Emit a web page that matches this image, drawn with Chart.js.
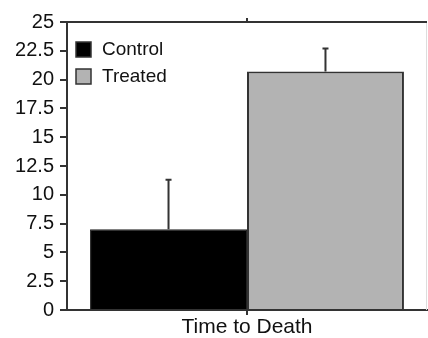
<!DOCTYPE html>
<html>
<head>
<meta charset="utf-8">
<script src="https://cdn.jsdelivr.net/npm/chart.js@4"></script>
<style>
  html, body { margin: 0; padding: 0; background: #fff; }
  #wrap { width: 428px; height: 338px; }
</style>
</head>
<body>
<div id="wrap"><canvas id="chart" width="428" height="338"></canvas></div>
<script>
// values
const categories = ['Time to Death'];
const seriesNames = ['Control', 'Treated'];
const controlValues = [7.0];
const treatedValues = [20.7];
const controlErrors = [4.3];
const treatedErrors = [2.0];
const yTicks = [0, 2.5, 5, 7.5, 10, 12.5, 15, 17.5, 20, 22.5, 25];

const errors = [controlErrors, treatedErrors];
const axisColor = '#333';
const fontFamily = '"Liberation Sans", Arial, sans-serif';

// upward-only error bars with a small cap
const errorBars = {
  id: 'errorBars',
  afterDatasetsDraw: (chart) => {
    var ctx = chart.ctx, y = chart.scales.y;
    ctx.save();
    ctx.strokeStyle = axisColor;
    ctx.lineWidth = 2;
    chart.data.datasets.forEach((ds, i) => {
      var meta = chart.getDatasetMeta(i);
      meta.data.forEach((bar, j) => {
        var top = y.getPixelForValue(ds.data[j] + errors[i][j]);
        ctx.beginPath();
        ctx.moveTo(bar.x, bar.y);
        ctx.lineTo(bar.x, top);
        ctx.moveTo(bar.x - 3, top);
        ctx.lineTo(bar.x + 3, top);
        ctx.stroke();
      });
    });
    ctx.restore();
  }
};

// top frame line, faint right border, centre tick at top, and the inset legend
const frame = {
  id: 'frame',
  afterDraw: (chart) => {
    var ctx = chart.ctx, a = chart.chartArea;
    ctx.save();
    ctx.strokeStyle = '#ddd';
    ctx.lineWidth = 1;
    ctx.beginPath();
    ctx.moveTo(a.right - 0.5, a.top);
    ctx.lineTo(a.right - 0.5, a.bottom);
    ctx.stroke();

    ctx.strokeStyle = axisColor;
    ctx.lineWidth = 2;
    ctx.beginPath();
    ctx.moveTo(a.left, a.top);
    ctx.lineTo(a.right, a.top);
    var cx = chart.scales.x.getPixelForValue(0);
    ctx.moveTo(cx, a.top);
    ctx.lineTo(cx, a.top - 4);
    ctx.stroke();

    // legend
    ctx.font = '19px ' + fontFamily;
    ctx.textBaseline = 'middle';
    chart.data.datasets.forEach((ds, i) => {
      var bx = a.left + 9, by = a.top + 20 + i * 27;
      ctx.fillStyle = ds.backgroundColor;
      ctx.fillRect(bx, by, 15, 15);
      ctx.lineWidth = 1.5;
      ctx.strokeStyle = axisColor;
      ctx.strokeRect(bx, by, 15, 15);
      ctx.fillStyle = '#111';
      ctx.fillText(ds.label, bx + 26, by + 8);
    });
    ctx.restore();
  }
};

const config = {
  type: 'bar',
  data: {
    labels: categories,
    datasets: [
      {
        label: seriesNames[0],
        data: controlValues,
        backgroundColor: '#000000',
        borderColor: '#222',
        borderWidth: 1
      },
      {
        label: seriesNames[1],
        data: treatedValues,
        backgroundColor: '#b3b3b3',
        borderColor: '#333',
        borderWidth: 2
      }
    ]
  },
  options: {
    responsive: false,
    animation: false,
    layout: { padding: { top: 22, right: 1, left: 0, bottom: 0 } },
    datasets: {
      bar: { categoryPercentage: 0.872, barPercentage: 1.0 }
    },
    plugins: {
      legend: { display: false },
      tooltip: { enabled: false }
    },
    scales: {
      x: {
        grid: {
          offset: false,
          drawOnChartArea: false,
          color: axisColor,
          tickLength: 5,
          lineWidth: 2
        },
        border: { color: axisColor, width: 2 },
        ticks: {
          color: '#111',
          padding: 0,
          font: { family: fontFamily, size: 21 }
        },
        afterFit: (scale) => { scale.height = 28; }
      },
      y: {
        min: 0,
        max: 25,
        afterBuildTicks: (scale) => { scale.ticks = yTicks.map(v => ({ value: v })); },
        grid: {
          drawOnChartArea: false,
          color: axisColor,
          tickLength: 7,
          lineWidth: 2
        },
        border: { color: axisColor, width: 2 },
        ticks: {
          color: '#111',
          padding: 6,
          font: { family: fontFamily, size: 20 }
        },
        afterFit: (scale) => { scale.width = 67; }
      }
    }
  },
  plugins: [errorBars, frame]
};

window.myChart = new Chart(document.getElementById('chart').getContext('2d'), config);
</script>
</body>
</html>
